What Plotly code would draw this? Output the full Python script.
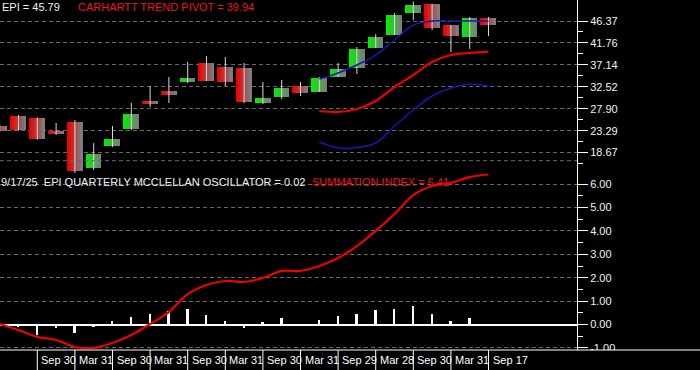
import plotly.graph_objects as go

# ---------------- data (quarterly EPI candles, Mar 2019 .. Sep 2025) ----------------
quarters = ["2019-03", "2019-06", "2019-09", "2019-12", "2020-03", "2020-06", "2020-09",
            "2020-12", "2021-03", "2021-06", "2021-09", "2021-12", "2022-03", "2022-06",
            "2022-09", "2022-12", "2023-03", "2023-06", "2023-09", "2023-12", "2024-03",
            "2024-06", "2024-09", "2024-12", "2025-03", "2025-06", "2025-09"]
opens = [24.27, 26.37, 25.95, 23.22, 25.11, 15.43, 20.06, 23.64, 29.53, 31.64, 33.53, 37.53,
         36.69, 36.48, 29.11, 30.37, 32.69, 31.43, 34.58, 36.48, 40.69, 43.42, 48.05, 49.95,
         45.53, 43.00, 47.00]
highs = [24.70, 26.59, 26.10, 24.90, 25.53, 20.69, 24.27, 29.11, 32.69, 34.58, 37.74, 39.00,
         38.79, 37.53, 33.53, 33.95, 33.53, 34.58, 37.53, 40.90, 43.60, 48.05, 50.50, 50.00,
         45.53, 47.21, 47.21]
lows = [23.00, 23.30, 21.40, 22.38, 14.38, 15.01, 19.85, 23.43, 28.27, 29.11, 33.32, 33.74,
        32.69, 29.11, 28.90, 29.95, 30.58, 31.43, 34.58, 35.21, 40.69, 43.42, 46.58, 44.48,
        39.85, 40.48, 43.21]
closes = [23.22, 23.43, 21.53, 22.59, 14.80, 18.38, 21.53, 26.80, 28.90, 30.79, 34.37, 33.74,
          33.53, 29.32, 30.16, 32.27, 31.22, 34.37, 36.27, 40.48, 43.00, 47.63, 49.74, 44.90,
          43.21, 47.00, 45.60]

# Carhartt bands (start at 2023-06)
band_start = 17
upper_band = [34.16, 35.42, 37.11, 39.21, 42.37, 45.53, 46.37, 46.37, 46.37, 46.37]
trend_pivot = [27.43, 27.22, 27.85, 29.53, 32.48, 35.00, 37.74, 39.21, 39.64, 39.94]
lower_band = [20.90, 19.64, 19.74, 20.69, 24.27, 27.64, 30.58, 32.27, 33.11, 32.69]

# McClellan oscillator and summation index
oscillator = [-0.05, -0.10, -0.43, -0.17, -0.38, -0.11, 0.14, 0.31, 0.47, 0.57, 0.68, 0.40,
              0.13, -0.17, 0.10, 0.26, -0.07, 0.21, 0.36, 0.47, 0.60, 0.68, 0.78, 0.43,
              0.13, 0.26, 0.02]
summation = [0.02, -0.24, -0.53, -0.66, -0.96, -1.00, -0.79, -0.45, 0.02, 0.53, 1.30, 1.69,
             1.86, 1.82, 1.99, 2.29, 2.29, 2.50, 2.84, 3.35, 4.00, 4.72, 5.53, 5.92, 6.05,
             6.30, 6.41]

# axis labels
price_ticks = [46.37, 41.76, 37.14, 32.52, 27.90, 23.29, 18.67]
osc_ticks = [6, 5, 4, 3, 2, 1, 0, -1]
date_label_pos = [2, 4, 6, 8, 10, 12, 14, 16, 18, 20, 22, 24, 26]
date_labels = ["Sep 30", "Mar 31", "Sep 30", "Mar 31", "Sep 30", "Mar 31", "Sep 30",
               "Mar 31", "Sep 29", "Mar 28", "Sep 30", "Mar 31", "Sep 17"]

# ---------------- styling ----------------
W, H = 700, 370
PL, PR, PB = 0, 123, 20
plot_w = W - PL - PR
plot_h = H - PB
XMIN, XMAX = 0.016, 30.707
GRID = "#6a6a6a"
RED = (238, 0, 0)
GREEN = (0, 240, 0)
GREY = (125, 125, 125)
TXT_RED = "#ee1515"
FONT = "Liberation Sans, Arial, sans-serif"


def mix(c1, c2, t):
    return "rgb(%d,%d,%d)" % tuple(round(a + (b - a) * t) for a, b in zip(c1, c2))


idx = list(range(len(quarters)))
fig = go.Figure()

# wicks
wx, wy = [], []
for i, (h, l) in enumerate(zip(highs, lows)):
    wx += [i, i, None]
    wy += [l, h, None]
fig.add_trace(go.Scatter(x=wx, y=wy, mode="lines", line=dict(color="#d8d8d8", width=1),
                         hoverinfo="skip", yaxis="y"))

# candle bodies as gradient stripes
BW = 0.8
N = 8
heights = [max(abs(c - o), 0.15) for o, c in zip(opens, closes)]
bases = [min(o, c) for o, c in zip(opens, closes)]
for k in range(N):
    t = k / (N - 1)
    cols = [mix(GREEN if c > o else RED, GREY, t) for o, c in zip(opens, closes)]
    fig.add_trace(go.Bar(x=idx, y=heights, base=bases, width=BW / N + 0.004,
                         offset=-BW / 2 + k * BW / N, marker=dict(color=cols, line=dict(width=0)),
                         hoverinfo="skip", yaxis="y"))

band_x = idx[band_start:]
fig.add_trace(go.Scatter(x=band_x, y=lower_band, mode="lines", line=dict(color="#1515b8", width=1.5, shape="spline"), yaxis="y"))
fig.add_trace(go.Scatter(x=band_x, y=upper_band, mode="lines", line=dict(color="#1515b8", width=1.5, shape="spline"), yaxis="y"))
fig.add_trace(go.Scatter(x=band_x, y=trend_pivot, mode="lines", line=dict(color="#ee0000", width=2.2, shape="spline"), yaxis="y"))

# oscillator + summation
fig.add_trace(go.Bar(x=idx, y=oscillator, width=0.1, marker=dict(color="white", line=dict(width=0)), yaxis="y2"))
fig.add_trace(go.Scatter(x=idx, y=summation, mode="lines", line=dict(color="#ee0000", width=2.2, shape="spline"), yaxis="y2"))

top_px0, top_px1 = 0, 178
bot_px0 = 158
y1_top = 46.37 + 21 / 4.751
y1_bot = 46.37 - (top_px1 - 21) / 4.751
y2_top = (324.5 - bot_px0) / 23.4
y2_bot = (324.5 - plot_h) / 23.4

axis_common = dict(side="right", anchor="x", tickmode="array", ticks="outside", ticklen=10,
                   tickcolor="white", tickwidth=1, showline=True, linecolor="white", linewidth=1,
                   showgrid=True, gridcolor=GRID, griddash="4px,3px", gridwidth=1,
                   tickfont=dict(size=11, color="#f2f2f2", family=FONT))

price_minor = [(a + b) / 2 for a, b in zip(price_ticks[:-1], price_ticks[1:])] + [price_ticks[-1] - 2.31]
osc_minor = [v + 0.5 for v in osc_ticks[1:]]

fig.update_layout(
    width=W, height=H,
    margin=dict(l=PL, r=PR, t=0, b=PB, pad=0),
    paper_bgcolor="black", plot_bgcolor="rgba(0,0,0,0)",
    showlegend=False, barmode="overlay", bargap=0,
    font=dict(family=FONT, size=11, color="white"),
    xaxis=dict(range=[XMIN, XMAX], showgrid=False, zeroline=False, showticklabels=False,
               showline=False, ticks=""),
    yaxis=dict(domain=[1 - top_px1 / plot_h, 1], range=[y1_bot, y1_top],
               tickvals=price_ticks, ticktext=["%.2f" % v for v in price_ticks], zeroline=False,
               minor=dict(tickmode="array", tickvals=price_minor, ticks="outside", ticklen=5,
                          tickcolor="white", showgrid=False),
               **axis_common),
    yaxis2=dict(domain=[0, 1 - bot_px0 / plot_h], range=[y2_bot, y2_top],
                tickvals=osc_ticks, ticktext=["%.2f" % v for v in osc_ticks],
                zeroline=True, zerolinecolor="white", zerolinewidth=1.5,
                minor=dict(tickmode="array", tickvals=osc_minor, ticks="outside", ticklen=5,
                           tickcolor="white", showgrid=False),
                **axis_common),
)

shapes = [
    dict(type="line", xref="x", yref="y2", x0=XMIN, x1=XMAX, y0=7, y1=7, layer="below",
         line=dict(color=GRID, width=1, dash="4px,3px")),
    dict(type="rect", xref="paper", yref="paper", x0=-0.01, x1=W / plot_w + 0.01,
         y0=-PB / plot_h - 0.01, y1=0, fillcolor="black", line=dict(width=0), layer="above"),
    dict(type="line", xref="paper", yref="paper", x0=0, x1=W / plot_w, y0=0, y1=0,
         line=dict(color="white", width=1.2), layer="above"),
]
for p in date_label_pos:
    shapes.append(dict(type="line", xref="x", yref="paper", x0=p, x1=p, y0=-PB / plot_h, y1=0,
                       line=dict(color="white", width=1), layer="above"))
fig.update_layout(shapes=shapes)

ann = []
for p, lab in zip(date_label_pos, date_labels):
    ann.append(dict(x=p, xref="x", y=-10 / plot_h, yref="paper", text=lab, showarrow=False,
                    xanchor="left", yanchor="middle", xshift=2,
                    font=dict(size=11, color="white", family=FONT)))


def top_text(px, py, text, color):
    return dict(x=px / plot_w, xref="paper", y=1 - py / plot_h, yref="paper", text=text,
                showarrow=False, xanchor="left", yanchor="middle",
                font=dict(size=11, color=color, family=FONT))


ann.append(top_text(0, 6.5, "EPI = %.2f" % 45.79, "#f0f0f0"))
ann.append(top_text(76, 6.5, "CARHARTT TREND PIVOT = %.2f" % trend_pivot[-1], TXT_RED))
ann.append(top_text(-1, 182, "9/17/25&nbsp; EPI QUARTERLY MCCLELLAN OSCILLATOR = %.2f" % oscillator[-1], "#f0f0f0"))
ann.append(top_text(310, 182, "SUMMATION INDEX = %.2f" % summation[-1], TXT_RED))
fig.update_layout(annotations=ann)

fig.write_html("out.html", config={"displayModeBar": False},
               post_script="document.body.style.margin='0';document.body.style.background='black';")
